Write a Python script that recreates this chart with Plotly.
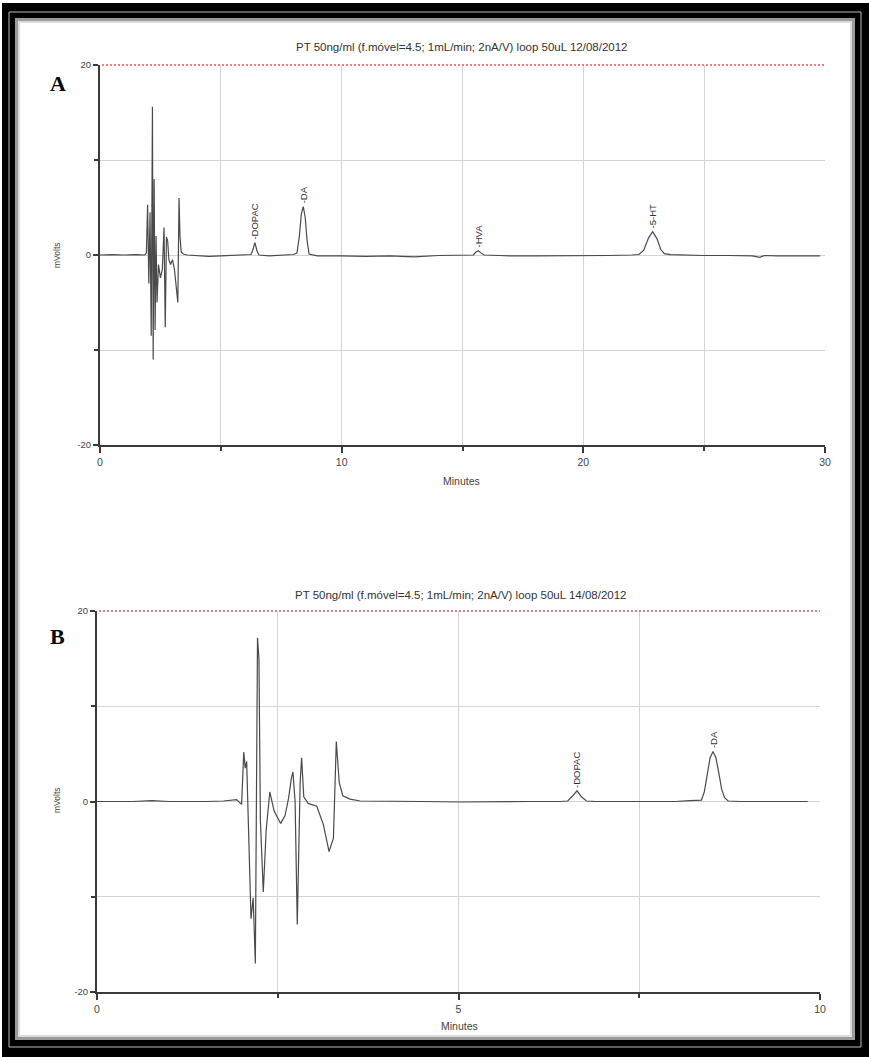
import plotly.graph_objects as go

W, H = 869, 1057

# ---------------- data ----------------
A_time = [0.0, 0.5, 1.0, 1.5, 1.85, 1.92, 1.97, 2.02, 2.07, 2.12, 2.17, 2.20, 2.24, 2.28, 2.32, 2.36,
          2.42, 2.50, 2.58, 2.65, 2.70, 2.75, 2.80, 2.85, 2.92, 3.00, 3.08, 3.15, 3.22, 3.27, 3.31,
          3.36, 3.45, 3.6, 4.0, 4.5, 5.0, 5.5, 6.0, 6.25, 6.32, 6.41, 6.5, 6.58, 7.0, 7.5, 8.0,
          8.15, 8.25, 8.33, 8.41, 8.49, 8.57, 8.65, 9.0, 10.0, 11.0, 12.0, 13.0, 14.0, 15.0,
          15.45, 15.55, 15.65, 15.75, 15.9, 16.5, 17.0, 18.0, 19.0, 20.0, 21.0, 22.0, 22.3, 22.5,
          22.7, 22.87, 23.05, 23.2, 23.35, 23.6, 24.0, 25.0, 26.0, 27.0, 27.3, 27.5, 28.0, 29.0, 29.8]
A_mv = [0.0, 0.05, 0.0, 0.05, 0.0, 0.2, 5.3, -3.0, 4.5, -8.5, 15.6, -11.0, 8.0, -7.9, 2.0, -5.0,
        -1.0, -2.4, -1.5, 2.9, -7.6, 1.9, 1.5, -0.5, -1.0, -0.5, -1.5, -3.0, -5.0, 6.0, 2.0,
        0.3, 0.1, 0.0, -0.1, -0.15, -0.1, -0.05, 0.0, 0.05, 0.5, 1.3, 0.4, 0.0, -0.1, 0.0, 0.05,
        0.2, 2.0, 4.3, 5.1, 4.0, 1.5, 0.1, -0.1, -0.1, -0.15, -0.1, -0.2, -0.05, -0.05,
        0.0, 0.3, 0.45, 0.25, 0.0, -0.05, -0.1, -0.1, -0.1, -0.05, -0.05, 0.0, 0.05, 0.5,
        1.8, 2.45, 1.7, 0.6, 0.15, 0.05, 0.0, -0.05, -0.05, -0.1, -0.25, -0.05, -0.1, -0.1, -0.1]

B_time = [0.0, 0.5, 0.76, 1.0, 1.5, 1.75, 1.93, 2.00, 2.03, 2.05, 2.07, 2.10, 2.13, 2.16, 2.19, 2.22,
          2.24, 2.26, 2.30, 2.34, 2.39, 2.45, 2.54, 2.60, 2.65, 2.69, 2.71, 2.74, 2.77, 2.81, 2.83,
          2.86, 2.92, 3.04, 3.13, 3.21, 3.27, 3.31, 3.35, 3.40, 3.50, 3.64, 4.0, 4.5, 5.0, 5.5,
          6.0, 6.4, 6.51, 6.58, 6.64, 6.70, 6.77, 6.9, 7.2, 7.6, 8.0, 8.2, 8.36, 8.40, 8.44, 8.48,
          8.52, 8.56, 8.60, 8.64, 8.68, 8.73, 8.9, 9.3, 9.83]
B_mv = [0.0, 0.0, 0.1, 0.0, 0.0, 0.05, 0.2, -0.3, 5.2, 3.5, 4.2, -5.0, -12.3, -10.1, -17.0, 17.2,
        15.0, -2.0, -9.5, -3.0, 1.0, -1.0, -2.3, -1.5, 0.35, 2.5, 3.1, 0.0, -12.9, 2.0, 4.6,
        0.5, -0.2, -0.5, -2.4, -5.25, -3.85, 6.3, 2.0, 0.6, 0.25, 0.05, 0.0, 0.0, -0.05, 0.0,
        0.0, 0.0, 0.05, 0.6, 1.12, 0.5, 0.05, 0.0, 0.0, -0.05, 0.0, 0.1, 0.15, 1.0, 2.8, 4.6,
        5.25, 4.6, 3.0, 1.3, 0.4, 0.05, 0.0, 0.0, 0.0]

A_peaks = ["DOPAC", "DA", "HVA", "5-HT"]
A_peak_t = [6.41, 8.41, 15.65, 22.87]
A_peak_v = [1.3, 5.1, 0.45, 2.45]

B_peaks = ["DOPAC", "DA"]
B_peak_t = [6.64, 8.52]
B_peak_v = [1.12, 5.25]

A_xticks = [0, 10, 20, 30]
A_xminor = [5, 15, 25]
B_xticks = [0, 5, 10]
B_xminor = [2.5, 7.5]
y_ticks = [-20, 0, 20]
y_minor = [-10, 10]

A_title = "PT 50ng/ml (f.móvel=4.5; 1mL/min; 2nA/V) loop 50uL 12/08/2012"
B_title = "PT 50ng/ml (f.móvel=4.5; 1mL/min; 2nA/V) loop 50uL 14/08/2012"

# ---------------- layout helpers ----------------
def px(x):
    return x / W

def py(y):
    return 1 - y / H

FONT = "Liberation Sans, Arial, sans-serif"
GRID = "#d4d4d4"
AXC = "#3a3a3a"
LINE = "#4a4a4a"

fig = go.Figure()
fig.add_trace(go.Scatter(x=A_time, y=A_mv, mode="lines", line=dict(color=LINE, width=1.2),
                         xaxis="x", yaxis="y", showlegend=False, hoverinfo="skip"))
fig.add_trace(go.Scatter(x=B_time, y=B_mv, mode="lines", line=dict(color=LINE, width=1.2),
                         xaxis="x2", yaxis="y2", showlegend=False, hoverinfo="skip"))

def xaxis(dom, rng, ticks, minor, anchor):
    return dict(domain=dom, range=rng, anchor=anchor, tickvals=ticks,
                ticktext=[str(t) for t in ticks],
                showgrid=True, gridcolor=GRID, gridwidth=1, zeroline=False,
                showline=True, linecolor=AXC, linewidth=2, ticks="outside", ticklen=6,
                tickcolor=AXC, tickwidth=1.5,
                tickfont=dict(family=FONT, size=10.5, color="#444"),
                minor=dict(tickvals=minor, ticks="outside", ticklen=4, tickcolor=AXC,
                           showgrid=True, gridcolor=GRID, gridwidth=1),
                fixedrange=True)

def yaxis(dom, anchor):
    return dict(domain=dom, range=[-20, 20], anchor=anchor, tickvals=y_ticks,
                ticktext=[str(t) for t in y_ticks],
                showgrid=True, gridcolor=GRID, gridwidth=1, zeroline=False,
                showline=True, linecolor=AXC, linewidth=2, ticks="outside", ticklen=5,
                tickcolor=AXC, tickwidth=1.5,
                tickfont=dict(family=FONT, size=9.5, color="#444"),
                minor=dict(tickvals=y_minor, ticks="outside", ticklen=4, tickcolor=AXC,
                           showgrid=True, gridcolor=GRID, gridwidth=1),
                fixedrange=True)

A_x = (100, 825); A_y = (65, 445)
B_x = (97, 820); B_y = (611, 992)

fig.update_layout(
    width=W, height=H,
    margin=dict(l=0, r=0, t=0, b=0, autoexpand=False),
    paper_bgcolor="white", plot_bgcolor="white",
    xaxis=xaxis([px(A_x[0]), px(A_x[1])], [0, 30], A_xticks, A_xminor, "y"),
    yaxis=yaxis([py(A_y[1]), py(A_y[0])], "x"),
    xaxis2=xaxis([px(B_x[0]), px(B_x[1])], [0, 10], B_xticks, B_xminor, "y2"),
    yaxis2=yaxis([py(B_y[1]), py(B_y[0])], "x2"),
)

shapes = []
# outer picture frame
shapes.append(dict(type="rect", xref="paper", yref="paper", x0=px(2), x1=px(869), y0=py(1057), y1=py(3),
                   fillcolor="black", line=dict(width=0), layer="below"))
shapes.append(dict(type="rect", xref="paper", yref="paper", x0=px(9), x1=px(861), y0=py(1047), y1=py(12),
                   fillcolor="rgba(0,0,0,0)", line=dict(color="#bbbbbb", width=1), layer="below"))
shapes.append(dict(type="rect", xref="paper", yref="paper", x0=px(15), x1=px(855), y0=py(1040), y1=py(18),
                   fillcolor="#9a9a9a", line=dict(width=0), layer="below"))
shapes.append(dict(type="rect", xref="paper", yref="paper", x0=px(18), x1=px(852), y0=py(1037), y1=py(21),
                   fillcolor="#dcdcdc", line=dict(width=0), layer="below"))
shapes.append(dict(type="rect", xref="paper", yref="paper", x0=px(20), x1=px(850), y0=py(1035), y1=py(23),
                   fillcolor="white", line=dict(width=0), layer="below"))
# red dotted limit lines at +20 (top of each plot area)
for (x0, x1), (y0, _) in ((A_x, A_y), (B_x, B_y)):
    shapes.append(dict(type="line", xref="paper", yref="paper", x0=px(x0 + 2), x1=px(x1), y0=py(y0), y1=py(y0),
                       line=dict(color="#e05a5a", width=1.6, dash="2px,2px"), layer="above"))
fig.update_layout(shapes=shapes)

ann = []
ann.append(dict(text=A_title, xref="paper", yref="paper", x=px(462), y=py(47), showarrow=False,
                font=dict(family=FONT, size=11.5, color="#333"), xanchor="center", yanchor="middle"))
ann.append(dict(text=B_title, xref="paper", yref="paper", x=px(460), y=py(595), showarrow=False,
                font=dict(family=FONT, size=11.5, color="#333"), xanchor="center", yanchor="middle"))
for lab, yy in (("A", 84), ("B", 636)):
    ann.append(dict(text="<b>%s</b>" % lab, xref="paper", yref="paper", x=px(58), y=py(yy), showarrow=False,
                    font=dict(family="Liberation Serif, Times New Roman, serif", size=22, color="black"),
                    xanchor="center", yanchor="middle"))
for yy in (255, 800):
    ann.append(dict(text="mVolts", xref="paper", yref="paper", x=px(57), y=py(yy), showarrow=False,
                    textangle=-90, font=dict(family=FONT, size=8.5, color="#444"),
                    xanchor="center", yanchor="middle"))
for xx, yy in ((462, 481), (459, 1026)):
    ann.append(dict(text="Minutes", xref="paper", yref="paper", x=px(xx), y=py(yy), showarrow=False,
                    font=dict(family=FONT, size=10.5, color="#444"), xanchor="center", yanchor="middle"))
for lab, t, v in zip(A_peaks, A_peak_t, A_peak_v):
    ann.append(dict(text="-" + lab, xref="x", yref="y", x=t, y=v + 0.1, showarrow=False, textangle=-90,
                    font=dict(family=FONT, size=9.5, color="#333"), xanchor="center", yanchor="bottom"))
for lab, t, v in zip(B_peaks, B_peak_t, B_peak_v):
    ann.append(dict(text="-" + lab, xref="x2", yref="y2", x=t, y=v + 0.1, showarrow=False, textangle=-90,
                    font=dict(family=FONT, size=9.5, color="#333"), xanchor="center", yanchor="bottom"))
fig.update_layout(annotations=ann)

fig.write_html("out.html", config={"displayModeBar": False},
               post_script="document.body.style.margin='0';document.body.style.overflow='hidden';")
